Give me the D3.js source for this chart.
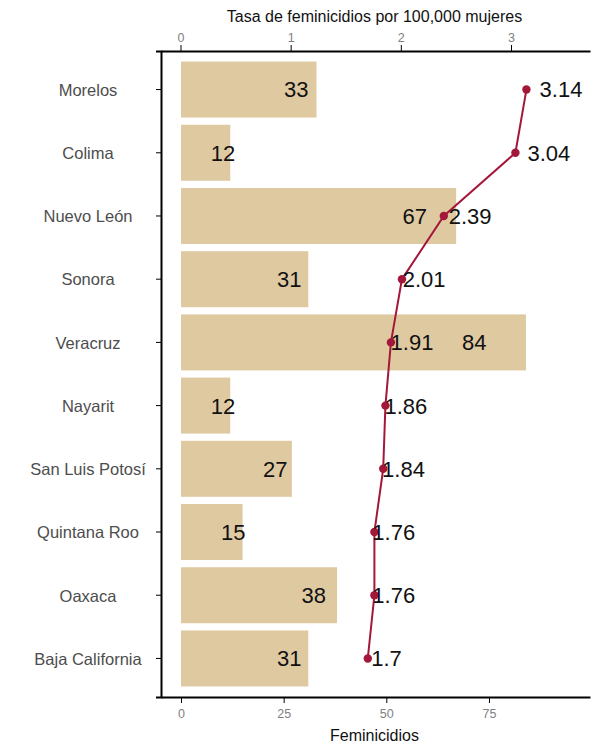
<!DOCTYPE html>
<html>
<head>
<meta charset="utf-8">
<script src="https://cdn.jsdelivr.net/npm/d3@7"></script>
<style>
  body { margin: 0; background: #fff; }
  text { font-family: "Liberation Sans", Arial, sans-serif; }
  .AxisStyle text { fill: #7f7f7f; font-size: 12.5px; }
  .AxisStyle path, .AxisStyle line { stroke: #000; }
</style>
</head>
<body>
<div id="chart"></div>
<script>
// ------ Data ---------------//
var estados = ["Morelos", "Colima", "Nuevo León", "Sonora", "Veracruz",
               "Nayarit", "San Luis Potosí", "Quintana Roo", "Oaxaca", "Baja California"];
var feminicidios = [33, 12, 67, 31, 84, 12, 27, 15, 38, 31];
var tasa = [3.14, 3.04, 2.39, 2.01, 1.91, 1.86, 1.84, 1.76, 1.76, 1.7];
var countTicks = [0, 25, 50, 75];
var rateTicks = [0, 1, 2, 3];

var data = estados.map((d, i) => ({estado: d, n: feminicidios[i], tasa: tasa[i]}));

// ------ SVG ---------------//
var width = 603, height = 747;
var svg = d3.select("#chart").append("svg")
    .attr("width", width)
    .attr("height", height);

var margin = ({top: 51, right: 13, bottom: 50, left: 161});

// ------ Scales ---------------//
{
  var y = d3.scaleBand()
    .domain(estados)
    .range([margin.top, height - margin.bottom])
    .paddingInner(0.114)
    .paddingOuter(0.167);

  var x = d3.scaleLinear()   // feminicidios (bottom)
    .domain([-4.87, 99.6])
    .range([margin.left, width - margin.right]);

  var xRate = d3.scaleLinear()   // tasa (top)
    .domain([-0.177, 3.717])
    .range([margin.left, width - margin.right]);
}

// ------ Bars ---------------//
{
  svg.append("g").selectAll("rect")
    .data(data)
    .join("rect")
    .attr("x", x(0))
    .attr("y", d => y(d.estado))
    .attr("width", d => x(d.n) - x(0))
    .attr("height", y.bandwidth())
    .attr("fill", "#dfc9a1");

  svg.append("g").selectAll("text")
    .data(data)
    .join("text")
    .attr("x", d => x(d.n * 0.85))
    .attr("y", d => y(d.estado) + y.bandwidth() / 2)
    .attr("dy", "0.36em")
    .attr("text-anchor", "middle")
    .attr("font-size", "22px")
    .attr("fill", "#111")
    .text(d => d.n);
}

// ------ Line ---------------//
{
  var line = d3.line()
    .x(d => xRate(d.tasa))
    .y(d => y(d.estado) + y.bandwidth() / 2);

  svg.append("path")
    .datum(data)
    .attr("d", line)
    .attr("fill", "none")
    .attr("stroke", "#a3173a")
    .attr("stroke-width", 2);

  svg.append("g").selectAll("circle")
    .data(data)
    .join("circle")
    .attr("cx", d => xRate(d.tasa))
    .attr("cy", d => y(d.estado) + y.bandwidth() / 2)
    .attr("r", 4.2)
    .attr("fill", "#a3173a");

  svg.append("g").selectAll("text")
    .data(data)
    .join("text")
    .attr("x", d => xRate(d.tasa * 1.1))
    .attr("y", d => y(d.estado) + y.bandwidth() / 2)
    .attr("dy", "0.36em")
    .attr("text-anchor", "middle")
    .attr("font-size", "22px")
    .attr("fill", "#111")
    .text(d => d.tasa);
}

// ------ Axes ---------------//
{
  svg.append("g").attr("class", "AxisStyle")
    .attr("transform", `translate(0,${height - margin.bottom})`)
    .call(d3.axisBottom(x).tickValues(countTicks).tickSizeOuter(0).tickPadding(6))
    .call(g => g.select(".domain").attr("stroke-width", 2));

  svg.append("g").attr("class", "AxisStyle")
    .attr("transform", `translate(0,${margin.top})`)
    .call(d3.axisTop(xRate).tickValues(rateTicks).tickFormat(d3.format("d")).tickSizeOuter(0).tickPadding(3))
    .call(g => g.select(".domain").attr("stroke-width", 2));

  var yAxis = svg.append("g").attr("class", "AxisStyle")
    .attr("transform", `translate(${margin.left},0)`)
    .call(d3.axisLeft(y).tickSizeOuter(0).tickSize(5))
    .call(g => g.select(".domain").attr("stroke-width", 2));

  yAxis.selectAll(".tick text")
    .attr("x", 88 - margin.left)
    .attr("dy", "0.38em")
    .attr("text-anchor", "middle")
    .style("fill", "#4d4d4d")
    .style("font-size", "16.5px");
}

// ------ Axis titles ---------------//
{
  var mid = (margin.left + width - margin.right) / 2 - 1;
  svg.append("text")
    .attr("x", mid)
    .attr("y", 22)
    .attr("text-anchor", "middle")
    .attr("font-size", "16px")
    .attr("fill", "#111")
    .text("Tasa de feminicidios por 100,000 mujeres");

  svg.append("text")
    .attr("x", mid)
    .attr("y", 741)
    .attr("text-anchor", "middle")
    .attr("font-size", "16px")
    .attr("fill", "#111")
    .text("Feminicidios");
}
</script>
</body>
</html>
